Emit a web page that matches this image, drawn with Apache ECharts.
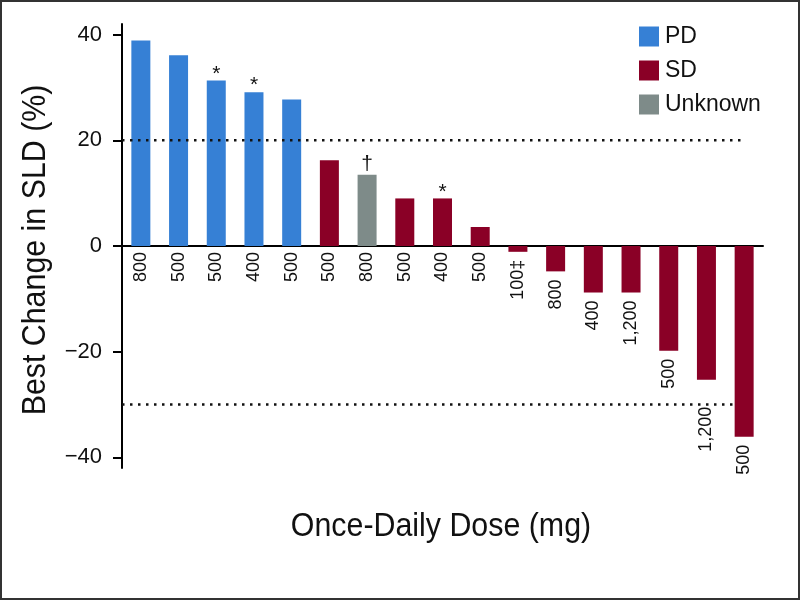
<!DOCTYPE html>
<html>
<head>
<meta charset="utf-8">
<script src="https://cdn.jsdelivr.net/npm/echarts@6/dist/echarts.min.js"></script>
<style>
html,body{margin:0;padding:0;background:#fff;}
#chart{width:801px;height:601px;}
</style>
</head>
<body>
<div id="chart"></div>
<script>
// ---- data ----
const patients = ['P1','P2','P3','P4','P5','P6','P7','P8','P9','P10','P11','P12','P13','P14','P15','P16','P17'];
const bestChange = [38.9, 36.1, 31.3, 29.1, 27.7, 16.2, 13.5, 9.0, 9.0, 3.6, -1.1, -4.8, -8.8, -8.8, -19.8, -25.3, -36.1];
const response = ['PD','PD','PD','PD','PD','SD','Unknown','SD','SD','SD','SD','SD','SD','SD','SD','SD','SD'];
const doseLabels = ['800','500','500','400','500','500','800','500','400','500','100\u2021','800','400','1,200','500','1,200','500'];
const notes = ['','','*','*','','','\u2020','','*','','','','','','','',''];
const responseTypes = ['PD','SD','Unknown'];
const yTicks = [-40, -20, 0, 20, 40];
const thresholds = [20, -30];
const thresholdEnds = [16.55, 16.2];
const xTitle = 'Once-Daily Dose (mg)';
const yTitle = 'Best Change in SLD (%)';

// ---- styling ----
const colors = {PD:'#3680D5', SD:'#8A0026', Unknown:'#7E8B89'};
const sans = "'Liberation Sans', Arial, Helvetica, sans-serif";

const chart = echarts.init(document.getElementById('chart'), null, {renderer:'canvas'});

const barSeries = responseTypes.map(t => ({
  name: t,
  type: 'bar',
  xAxisIndex: 0,
  yAxisIndex: 0,
  barWidth: 19,
  barGap: '-100%',
  itemStyle: {color: colors[t]},
  data: bestChange.map((v, i) => {
    if (response[i] !== t) return '-';
    return {
      value: v,
      label: {distance: i === 15 ? 27 : (v < 0 ? 8 : 6)}
    };
  }),
  label: {
    show: true,
    position: 'bottom',
    rotate: 90,
    align: 'right',
    verticalAlign: 'middle',
    distance: 6,
    fontFamily: sans,
    fontSize: 18,
    color: '#111',
    formatter: p => doseLabels[p.dataIndex]
  },
  emphasis: {disabled: true},
  animation: false
}));

const noteSeries = {
  name: 'notes',
  type: 'bar',
  barWidth: 19,
  barGap: '-100%',
  itemStyle: {color: 'rgba(0,0,0,0)'},
  data: bestChange.map((v, i) => ({
    value: v,
    label: {offset: [0, notes[i] === '*' ? 4 : 0]}
  })),
  label: {
    show: true,
    position: 'top',
    distance: 0,
    fontFamily: sans,
    fontSize: 21,
    color: '#111',
    formatter: p => notes[p.dataIndex]
  },
  silent: true,
  animation: false
};

const refSeries = thresholds.map((y, k) => ({
  type: 'line',
  xAxisIndex: 1,
  yAxisIndex: 0,
  symbol: 'none',
  silent: true,
  animation: false,
  lineStyle: {color: '#111', width: 2.5, type: [2.5, 5.5]},
  data: [[0, y], [thresholdEnds[k], y]]
}));

const option = {
  backgroundColor: '#fff',
  animation: false,
  grid: {left: 122, right: 38, top: 24, bottom: 133, containLabel: false},
  legend: {
    data: responseTypes,
    orient: 'vertical',
    left: 634,
    top: 20,
    itemWidth: 20,
    itemHeight: 20,
    itemGap: 11,
    icon: 'rect',
    textStyle: {fontFamily: sans, fontSize: 23, color: '#111', padding: [0, 0, 0, 1]},
    selectedMode: false
  },
  xAxis: [{
    type: 'category',
    data: patients,
    axisLine: {show: true, onZero: true, lineStyle: {color: '#000', width: 2}},
    axisTick: {show: false},
    axisLabel: {show: false},
    splitLine: {show: false}
  }, {
    type: 'value',
    min: 0,
    max: patients.length,
    show: false
  }],
  yAxis: {
    type: 'value',
    min: -42,
    max: 42,
    axisLine: {show: true, lineStyle: {color: '#000', width: 2}},
    axisTick: {show: true, length: 9, lineStyle: {color: '#000', width: 2}, customValues: yTicks},
    axisLabel: {
      fontFamily: sans, fontSize: 22, color: '#111', margin: 20,
      customValues: yTicks,
      formatter: v => (v < 0 ? '\u2212' + Math.abs(v) : String(v))
    },
    splitLine: {show: false}
  },
  graphic: [
    {type: 'rect', shape: {x: 1, y: 1, width: 798, height: 598}, style: {fill: 'none', stroke: '#333', lineWidth: 2}, silent: true},
    {type: 'text', x: 441, y: 527, scaleX: 0.92, originX: 0, originY: 0,
     style: {text: xTitle, font: '33px ' + sans, fill: '#111', textAlign: 'center', textVerticalAlign: 'middle'}, silent: true},
    {type: 'text', x: 36, y: 250, rotation: Math.PI / 2, scaleX: 0.92,
     style: {text: yTitle, font: '33px ' + sans, fill: '#111', textAlign: 'center', textVerticalAlign: 'middle'}, silent: true}
  ],
  series: [...refSeries, ...barSeries, noteSeries]
};

chart.setOption(option);
</script>
</body>
</html>
